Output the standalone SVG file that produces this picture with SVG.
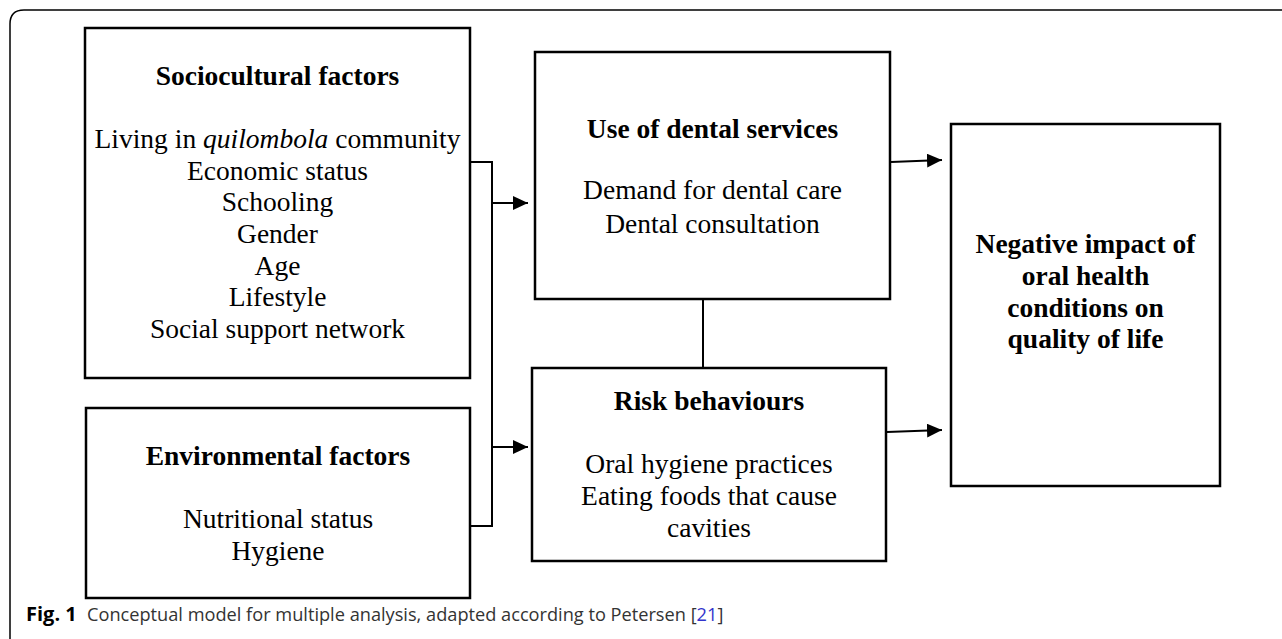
<svg xmlns="http://www.w3.org/2000/svg" width="1282" height="639" viewBox="0 0 1282 639">
<defs>
<style>
.box{fill:#fff;stroke:#000;stroke-width:2.5}
.t{font-family:'Liberation Serif','Tinos','Times New Roman',serif;font-size:27.5px;fill:#000;text-anchor:middle}
.b{font-weight:bold}
.ln{fill:none;stroke:#000;stroke-width:2}
.cap{font-family:'Open Sans','Noto Sans',sans-serif;font-size:18.2px;fill:#333}
</style>
<marker id="ah" markerWidth="15" markerHeight="14" viewBox="0 0 15 14" refX="15" refY="7" orient="auto" markerUnits="userSpaceOnUse">
<path d="M0,0 L15,7 L0,14 Z" fill="#000"/>
</marker>
</defs>
<rect width="1282" height="639" fill="#fff"/>
<path d="M10,639 L10,24 Q10,10 24,10 L1282,10" fill="none" stroke="#000" stroke-width="1.5"/>

<g id="sociocultural">
<rect class="box" x="85" y="28" width="385" height="350"/>
<text class="t b" x="277.5" y="85">Sociocultural factors</text>
<text class="t" x="277.5" y="148">Living in <tspan font-style="italic">quilombola</tspan> community</text>
<text class="t" x="277.5" y="180">Economic status</text>
<text class="t" x="277.5" y="211">Schooling</text>
<text class="t" x="277.5" y="243">Gender</text>
<text class="t" x="277.5" y="275">Age</text>
<text class="t" x="277.5" y="306">Lifestyle</text>
<text class="t" x="277.5" y="338">Social support network</text>
</g>

<g id="environmental">
<rect class="box" x="86" y="408" width="384" height="190"/>
<text class="t b" x="278" y="465">Environmental factors</text>
<text class="t" x="278" y="528">Nutritional status</text>
<text class="t" x="278" y="560">Hygiene</text>
</g>

<g id="dental-services">
<rect class="box" x="535" y="52" width="355" height="247"/>
<text class="t b" x="712.5" y="138">Use of dental services</text>
<text class="t" x="712.5" y="199">Demand for dental care</text>
<text class="t" x="712.5" y="233">Dental consultation</text>
</g>

<g id="risk-behaviours">
<rect class="box" x="532" y="368" width="354" height="193"/>
<text class="t b" x="709" y="410">Risk behaviours</text>
<text class="t" x="709" y="473">Oral hygiene practices</text>
<text class="t" x="709" y="505">Eating foods that cause</text>
<text class="t" x="709" y="537">cavities</text>
</g>

<g id="negative-impact">
<rect class="box" x="951" y="124" width="269" height="362"/>
<text class="t b" x="1085.5" y="253">Negative impact of</text>
<text class="t b" x="1085.5" y="285">oral health</text>
<text class="t b" x="1085.5" y="317">conditions on</text>
<text class="t b" x="1085.5" y="348">quality of life</text>
</g>

<g id="connectors">
<path class="ln" d="M471,162 L492,162 L492,526 L471,526"/>
<path class="ln" d="M492,203 L528,203" marker-end="url(#ah)"/>
<path class="ln" d="M492,447 L528,447" marker-end="url(#ah)"/>
<path class="ln" d="M703,300 L703,367"/>
<path class="ln" d="M891,162 L942,160" marker-end="url(#ah)"/>
<path class="ln" d="M887,432 L942,430" marker-end="url(#ah)"/>
</g>

<text class="cap" y="621"><tspan x="26" font-weight="bold" font-size="20px" fill="#000">Fig. 1</tspan><tspan x="87">Conceptual model for multiple analysis, adapted according to Petersen [<tspan fill="#3333cc">21</tspan>]</tspan></text>
</svg>
